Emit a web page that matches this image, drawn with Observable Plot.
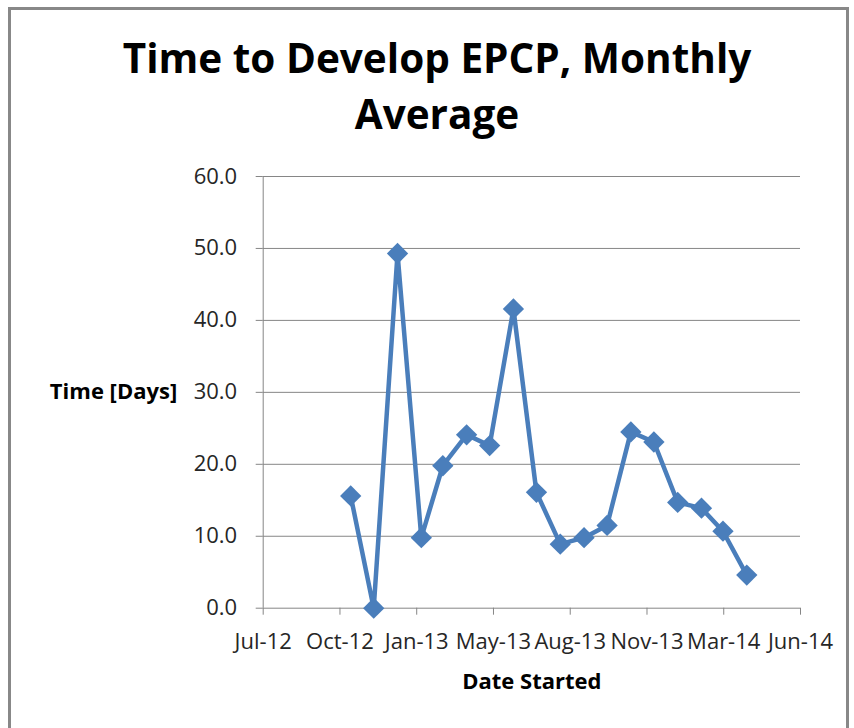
<!DOCTYPE html>
<html>
<head>
<meta charset="utf-8">
<script src="https://cdn.jsdelivr.net/npm/d3@7"></script>
<script src="https://cdn.jsdelivr.net/npm/@observablehq/plot@0.6"></script>
<style>
  html, body { margin: 0; padding: 0; width: 854px; height: 728px; overflow: hidden; background: #fff; }
  #wrap { position: relative; width: 854px; height: 728px; overflow: hidden; }
  #frame { position: absolute; left: 8px; top: 7px; width: 841px; height: 760px; box-sizing: border-box; border: 3px solid #888888; }
  .title { position: absolute; left: 0; width: 874px; text-align: center; font-family: "Open Sans", sans-serif; font-weight: 700; font-size: 40.5px; line-height: 56px; color: #000; white-space: nowrap; }
  #chart { position: absolute; left: 0; top: 150px; }
</style>
</head>
<body>
<div id="wrap">
  <div id="frame"></div>
  <div class="title" id="t1" style="top:30px;">Time to Develop EPCP, Monthly</div>
  <div class="title" id="t2" style="top:86px;">Average</div>
  <div id="chart"></div>
</div>
<script>
// ---- data ----
const months = [
  "2012-11-01", "2012-12-01", "2013-01-01", "2013-02-01", "2013-03-01", "2013-04-01",
  "2013-05-01", "2013-06-01", "2013-07-01", "2013-08-01", "2013-09-01", "2013-10-01",
  "2013-11-01", "2013-12-01", "2014-01-01", "2014-02-01", "2014-03-01", "2014-04-01"
];
const avgDays = [15.6, 0.0, 49.3, 9.8, 19.8, 24.1, 22.6, 41.6, 16.1, 8.9, 9.8, 11.5, 24.5, 23.1, 14.7, 13.9, 10.7, 4.6];

const xTickDates = ["2012-07-10", "2012-10-18", "2013-01-26", "2013-05-06", "2013-08-14", "2013-11-22", "2014-03-02", "2014-06-10"];
const xTickLabels = ["Jul-12", "Oct-12", "Jan-13", "May-13", "Aug-13", "Nov-13", "Mar-14", "Jun-14"];
const yTicks = [0, 10, 20, 30, 40, 50, 60];

const titleText = "Time to Develop EPCP, Monthly Average";
const xLabel = "Date Started";
const yLabel = "Time [Days]";

// ---- build ----
const data = months.map((m, i) => ({date: new Date(m), value: avgDays[i]}));
const xTicks = xTickDates.map(d => new Date(d));
const labelMap = new Map(xTicks.map((d, i) => [+d, xTickLabels[i]]));

const axisGray = "#868686";
const textColor = "#262626";
const blue = "#4A7EBB";

const chart = Plot.plot({
  width: 854,
  height: 578,
  marginTop: 26,
  marginBottom: 120.3,
  marginLeft: 262.7,
  marginRight: 54,
  style: {fontFamily: "'Open Sans', sans-serif", fontSize: "22px", background: "transparent", overflow: "visible"},
  x: {type: "utc", domain: [xTicks[0], xTicks[xTicks.length - 1]]},
  y: {domain: [0, 60]},
  marks: [
    Plot.gridY(yTicks, {stroke: axisGray, strokeOpacity: 1, strokeWidth: 1}),
    Plot.ruleX([xTicks[0]], {stroke: axisGray, strokeWidth: 1}),
    Plot.axisY(yTicks, {
      tickSize: 7, tickPadding: 19, tickFormat: d => d.toFixed(1),
      stroke: axisGray, fill: textColor, fontSize: 22, label: null
    }),
    Plot.axisX(xTicks, {
      tickSize: 7, tickPadding: 18.5, tickFormat: d => labelMap.get(+d),
      stroke: axisGray, fill: textColor, fontSize: 22, label: null
    }),
    Plot.text([yLabel], {frameAnchor: "left", textAnchor: "end", dx: -86, fontWeight: "bold", fontSize: 22, fill: "#000"}),
    Plot.text([xLabel], {frameAnchor: "bottom", dy: 81, fontWeight: "bold", fontSize: 22, fill: "#000"}),
    Plot.line(data, {x: "date", y: "value", stroke: blue, strokeWidth: 4.5, strokeLinejoin: "round"}),
    Plot.dot(data, {x: "date", y: "value", symbol: "diamond2", r: 9.6, fill: blue, stroke: "none"})
  ]
});
document.getElementById("chart").appendChild(chart);
</script>
</body>
</html>
